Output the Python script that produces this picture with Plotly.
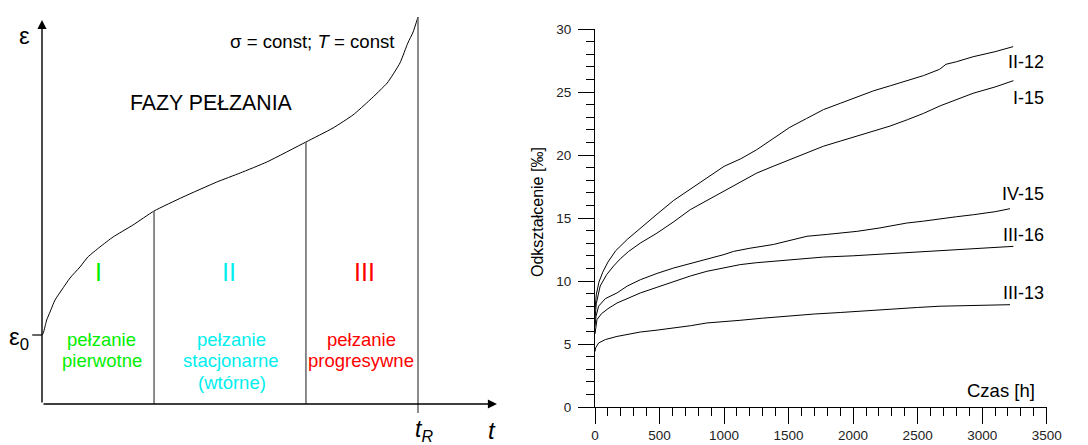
import numpy as np
import plotly.graph_objects as go

W, H = 1088, 445
FONT = "Arial, Liberation Sans, sans-serif"

# ---------------- Left panel: schematic creep curve ----------------
schem_t = [0.0, 0.0035, 0.0125, 0.0213, 0.0346, 0.0524, 0.0745, 0.101, 0.122, 0.154, 0.189, 0.242, 0.298,
           0.375, 0.465, 0.527, 0.598, 0.702, 0.774, 0.827, 0.872, 0.918, 0.952, 0.973, 0.987, 1.0]
schem_eps = [0.69, 0.71, 0.84, 0.92, 1.04, 1.14, 1.26, 1.37, 1.47, 1.57, 1.67, 1.79, 1.93,
             2.07, 2.22, 2.31, 2.42, 2.62, 2.76, 2.89, 3.04, 3.21, 3.41, 3.61, 3.72, 3.87]
phase_bounds = [0.298, 0.702, 1.0]       # end of phase I, end of phase II, t_R
eps0 = 0.69
t_axis_end = 1.21
eps_axis_end = 3.84

# ---------------- Right panel: measured creep curves ----------------
t_II12 = [0, 10, 30, 60, 100, 160, 250, 350, 480, 610, 740, 870, 1000, 1130, 1250, 1380, 1510, 1640, 1770, 1900,
          2030, 2160, 2290, 2420, 2545, 2670, 2720, 2800, 2930, 3100, 3240]
e_II12 = [7.8, 8.9, 9.9, 10.7, 11.5, 12.4, 13.3, 14.2, 15.3, 16.4, 17.3, 18.2, 19.1, 19.7, 20.4, 21.3, 22.2, 22.9,
          23.6, 24.1, 24.6, 25.1, 25.5, 25.9, 26.3, 26.8, 27.2, 27.4, 27.8, 28.2, 28.6]
t_I15 = [0, 10, 40, 90, 145, 200, 261, 350, 480, 610, 738, 870, 996, 1125, 1254, 1380, 1512, 1640, 1771, 1900,
         2029, 2160, 2287, 2420, 2545, 2674, 2803, 2930, 3100, 3242]
e_I15 = [7.0, 8.2, 9.6, 10.5, 11.2, 11.8, 12.35, 13.0, 13.8, 14.7, 15.66, 16.4, 17.1, 17.8, 18.57, 19.1, 19.63,
         20.2, 20.7, 21.1, 21.5, 21.9, 22.3, 22.8, 23.3, 23.9, 24.4, 24.9, 25.4, 25.9]
t_IV15 = [0, 8, 28, 80, 170, 250, 351, 480, 609, 740, 867, 1000, 1074, 1200, 1383, 1510, 1642, 1800, 2029, 2200,
          2416, 2545, 2674, 2800, 2932, 3100, 3216]
e_IV15 = [6.4, 7.2, 8.0, 8.6, 9.05, 9.6, 10.1, 10.6, 11.03, 11.4, 11.7, 12.1, 12.35, 12.6, 12.9, 13.2, 13.55,
          13.7, 13.94, 14.2, 14.6, 14.75, 14.9, 15.1, 15.26, 15.5, 15.74]
t_III16 = [0, 5, 15, 50, 100, 170, 250, 351, 480, 609, 740, 867, 1000, 1125, 1250, 1383, 1550, 1771, 2000, 2158,
           2350, 2545, 2750, 2932, 3100, 3242]
e_III16 = [5.8, 6.4, 6.93, 7.4, 7.8, 8.25, 8.6, 9.05, 9.5, 9.97, 10.4, 10.77, 11.05, 11.3, 11.45, 11.56, 11.7,
           11.9, 12.0, 12.09, 12.2, 12.35, 12.45, 12.54, 12.65, 12.75]
t_III13 = [0, 5, 28, 80, 170, 260, 351, 480, 609, 740, 867, 1000, 1125, 1300, 1512, 1700, 1900, 2100, 2287, 2500,
           2674, 2900, 3100, 3216]
e_III13 = [4.4, 4.7, 5.08, 5.35, 5.6, 5.8, 5.95, 6.1, 6.27, 6.45, 6.67, 6.75, 6.88, 7.05, 7.25, 7.38, 7.5, 7.65,
           7.78, 7.9, 8.0, 8.05, 8.1, 8.12]
series_names = ["II-12", "I-15", "IV-15", "III-16", "III-13"]
series_t = [t_II12, t_I15, t_IV15, t_III16, t_III13]
series_e = [e_II12, e_I15, e_IV15, e_III16, e_III13]
label_y = [27.4, 24.5, 16.9, 13.65, 9.05]

fig = go.Figure()

# left schematic curve
fig.add_trace(go.Scatter(x=schem_t, y=schem_eps, mode="lines",
                         line=dict(color="black", width=1, shape="spline", smoothing=0.5),
                         xaxis="x", yaxis="y", hoverinfo="skip", showlegend=False))

# phase boundary lines
for i, tb in enumerate(phase_bounds):
    top = float(np.interp(tb, schem_t, schem_eps))
    bottom = -0.09 if i == len(phase_bounds) - 1 else 0
    fig.add_trace(go.Scatter(x=[tb, tb], y=[bottom, top], mode="lines", line=dict(color="#666666", width=1.5),
                             xaxis="x", yaxis="y", hoverinfo="skip", showlegend=False))
# eps0 tick
fig.add_trace(go.Scatter(x=[-0.026, 0], y=[eps0, eps0], mode="lines", line=dict(color="black", width=1.2),
                         xaxis="x", yaxis="y", hoverinfo="skip", showlegend=False))

# right series
for name, ts, es in zip(series_names, series_t, series_e):
    fig.add_trace(go.Scatter(x=ts, y=es, mode="lines", name=name, line=dict(color="black", width=1),
                             xaxis="x2", yaxis="y2", showlegend=False))

def P(px, py):
    return px / W, 1 - py / H

ann = []
def txt(text, px, py, size, color="black", xanchor="center", angle=0, yanchor="middle"):
    x, y = P(px, py)
    ann.append(dict(text=text, x=x, y=y, xref="paper", yref="paper", showarrow=False, xanchor=xanchor,
                    yanchor=yanchor, textangle=angle, font=dict(family=FONT, size=size, color=color)))

# axis arrows (left)
ann.append(dict(x=t_axis_end, y=0, ax=0, ay=0, xref="x", yref="y", axref="x", ayref="y", text="",
                showarrow=True, arrowhead=2, arrowsize=1.3, arrowwidth=1.4, arrowcolor="black"))
ann.append(dict(x=0, y=eps_axis_end, ax=0, ay=0, xref="x", yref="y", axref="x", ayref="y", text="",
                showarrow=True, arrowhead=2, arrowsize=1.3, arrowwidth=1.4, arrowcolor="black"))

txt("ε", 24, 36, 24)
txt("ε<sub>0</sub>", 19, 338, 24)
txt("σ = const; <i>T</i> = const", 312, 42, 18.6)
txt("FAZY PEŁZANIA", 211, 103, 21.3)
GREEN, CYAN, RED = "#00ee00", "#00eeee", "#ff0000"
txt("I", 98, 272, 25, GREEN)
txt("II", 229, 272, 25, CYAN)
txt("III", 364, 272, 25, RED)
txt("pełzanie", 101, 339, 18.5, GREEN)
txt("pierwotne", 102, 360, 18.5, GREEN)
txt("pełzanie", 231, 339, 18.5, CYAN)
txt("stacjonarne", 231, 360, 18.5, CYAN)
txt("(wtórne)", 232, 382, 18.5, CYAN)
txt("pełzanie", 361, 339, 18.5, RED)
txt("progresywne", 361, 360, 18.5, RED)
txt("<i>t</i><sub><i>R</i></sub>", 424, 430, 23)
txt("<i>t</i>", 492, 430, 24)

# right panel texts
txt("Czas [h]", 1037, 390, 18.5, xanchor="right")
txt("Odkształcenie [‰]", 537, 212, 16, angle=-90)
for name, ly in zip(series_names, label_y):
    ann.append(dict(text=name, x=3495, y=ly, xref="x2", yref="y2", showarrow=False, xanchor="right",
                    font=dict(family=FONT, size=18, color="black")))

fig.update_layout(
    width=W, height=H, margin=dict(l=0, r=0, t=0, b=0, autoexpand=False),
    paper_bgcolor="white", plot_bgcolor="white", showlegend=False,
    annotations=ann,
    xaxis=dict(domain=[0, 500 / W], range=[-42 / 376, (500 - 42) / 376], visible=False, fixedrange=True),
    yaxis=dict(domain=[0, 1], range=[(404 - 445) / 100, 404 / 100], visible=False, fixedrange=True),
    xaxis2=dict(domain=[595 / W, 1046.7 / W], range=[0, 3500], anchor="y2", automargin=False,
                showline=True, linecolor="black", linewidth=1, showgrid=False, zeroline=False,
                ticks="outside", ticklen=16, tickcolor="black", tickwidth=1, dtick=500, tick0=0,
                minor=dict(dtick=100, ticklen=8, ticks="outside", tickcolor="black", showgrid=False),
                tickfont=dict(family=FONT, size=13.5, color="#222")),
    yaxis2=dict(domain=[(445 - 407) / H, (445 - 29) / H], range=[0, 30], anchor="x2", automargin=False,
                showline=True, linecolor="black", linewidth=1, showgrid=False, zeroline=False,
                ticks="outside", ticklen=16, tickcolor="black", tickwidth=1, dtick=5, tick0=0,
                minor=dict(dtick=1, ticklen=8, ticks="outside", tickcolor="black", showgrid=False),
                ticklabelstandoff=4,
                tickfont=dict(family=FONT, size=13.5, color="#222")),
)

fig.write_html("out.html")
